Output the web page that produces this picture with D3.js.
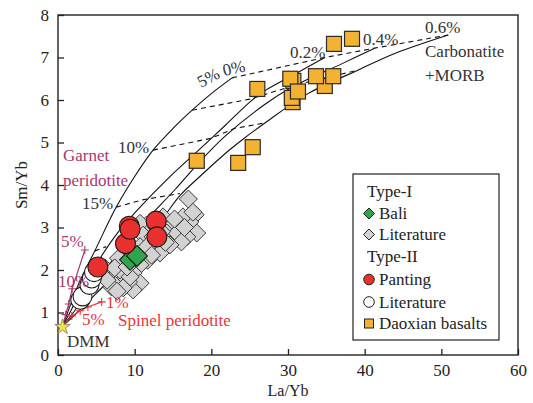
<!DOCTYPE html>
<html>
<head>
<meta charset="utf-8">
<script src="https://cdn.jsdelivr.net/npm/d3@7"></script>
<style>
  body { margin: 0; background: #fff; }
</style>
</head>
<body>
<div id="chart"></div>
<script>
// melting curves, DMM + carbonatite (0, 0.2, 0.4, 0.6 %), La/Yb vs Sm/Yb
const curve0 = [[0.6,0.68],[1.3,1.02],[2.8,1.72],[4.8,2.45],[7.6,3.48],[10,4.2],[12.4,4.82],[15,5.33],[17.5,5.76],[20,6.15],[22.7,6.52]];
const curve02 = [[0.6,0.68],[1.5,0.98],[3.2,1.58],[5.5,2.28],[7.8,2.88],[10.4,3.42],[14.5,4.18],[18.1,4.78],[21.8,5.4],[25.2,5.98],[27,6.22],[30.4,6.56],[34.8,7.0]];
const curve04 = [[0.6,0.68],[2,1.0],[4.5,1.62],[7.5,2.32],[11,3.08],[15.3,3.9],[18.5,4.55],[21.8,5.15],[27,5.9],[30.5,6.3],[37,6.85],[41.3,7.22]];
const curve06 = [[0.6,0.68],[2.5,1.0],[5,1.45],[8,2.0],[10.5,2.52],[13.6,3.2],[15.9,3.75],[18.5,4.2],[22.2,4.8],[24,5.06],[27,5.46],[32.6,6.15],[39.1,6.7],[44,7.1],[50.9,7.53]];

// equal melting degree lines (dashed)
const dash1 = [[22.7,6.52],[34.8,7.0],[41.3,7.22],[50.9,7.53]];
const dash2 = [[17.5,5.76],[25.0,6.02],[31.5,6.38],[39.1,6.7]];
const dash3 = [[12.4,4.82],[20.0,5.1],[23.0,5.33],[27,5.46]];
const dash4 = [[7.6,3.48],[11,3.65],[15.9,3.8]];
const dash5 = [[4.8,2.45],[6.3,2.55]];

const garnetLine = [[0.6,0.68],[1.0,0.95],[1.4,1.2],[1.85,1.56],[3.5,2.47]];
const spinelLine = [[0.6,0.68],[1.8,0.92],[2.9,1.04],[3.9,1.13],[5.7,1.25]];
const dmm = [0.6,0.66];

// samples
const bali = [[9.4,2.24],[10.3,2.33]];
const typeILit = [[17.0,3.67],[17.9,3.3],[18.1,2.87],[17.2,3.13],[16.8,2.78],[15.9,3.01],[15.0,2.7],[14.6,3.1],[13.7,3.25],[11.5,3.05],[10.7,3.1],[11.1,2.82],[10.7,2.55],[12.9,2.47],[13.3,2.4],[11.7,2.23],[10.7,2.12],[9.8,1.93],[10.7,1.69],[9.8,1.53],[9.2,1.72],[8.5,1.76],[7.2,1.69],[7.0,1.6],[6.8,1.93],[8.1,2.0],[8.7,2.19],[7.9,2.28],[9.6,2.42],[8.9,2.7],[14.2,2.87],[15.5,2.87],[16.3,3.25],[17.6,3.36],[16.1,2.66],[14.6,2.59],[12.4,2.78],[12.9,3.0],[11.6,2.55],[12.2,2.35],[6.1,2.05],[6.4,1.76],[8.5,1.58],[9.4,1.84],[7.4,2.05],[9.0,2.07],[7.7,1.5],[15.2,3.2],[16.5,3.0],[14.0,2.65],[13.5,2.9],[10.2,2.35]];
const panting = [[5.2,2.07],[8.8,2.62],[9.3,3.03],[9.4,2.96],[12.8,3.15],[12.9,2.78]];
const typeIILit = [[2.9,1.3],[3.2,1.38],[4.1,1.65],[4.4,1.8],[4.7,1.95]];
const daoxian = [[26.0,6.26],[18.1,4.57],[23.5,4.52],[25.4,4.89],[30.6,5.95],[30.5,6.05],[30.7,6.45],[30.3,6.5],[31.3,6.2],[34.8,6.33],[33.65,6.56],[35.9,6.56],[36.0,7.32],[38.35,7.44]];

const xTicks = [0,10,20,30,40,50,60];
const yTicks = [0,1,2,3,4,5,6,7,8];

const W = 533, H = 403;
const FONT = '"Liberation Serif", "DejaVu Serif", "Times New Roman", serif';
const svg = d3.select("#chart").append("svg").attr("width", W).attr("height", H)
  .attr("font-family", FONT);

const x = d3.scaleLinear().domain([0,60]).range([58,518]);
const y = d3.scaleLinear().domain([0,8]).range([355,15]);

const purple = "#a8386f", red = "#e8353a", ink = "#333";

// axes, ticks pointing inward
svg.append("g").attr("transform", "translate(0,355)")
  .call(d3.axisBottom(x).tickValues(xTicks).tickSizeInner(-6).tickSizeOuter(0).tickPadding(9))
  .attr("font-family", FONT).attr("font-size", 17)
  .call(g => g.select(".domain").remove())
  .call(g => g.selectAll("text").attr("fill", "#222"))
  .call(g => g.selectAll("line").attr("stroke", "#222").attr("stroke-width", 1.3));
svg.append("g").attr("transform", "translate(58,0)")
  .call(d3.axisLeft(y).tickValues(yTicks).tickSizeInner(-6).tickSizeOuter(0).tickPadding(9))
  .attr("font-family", FONT).attr("font-size", 17)
  .call(g => g.select(".domain").remove())
  .call(g => g.selectAll("text").attr("fill", "#222"))
  .call(g => g.selectAll("line").attr("stroke", "#222").attr("stroke-width", 1.3));

svg.append("rect").attr("x", 58).attr("y", 15).attr("width", 460).attr("height", 340)
  .attr("fill", "none").attr("stroke", "#222").attr("stroke-width", 1.4);

svg.append("text").attr("x", 288).attr("y", 396).attr("text-anchor", "middle")
  .attr("font-size", 16).attr("fill", "#222").text("La/Yb");
svg.append("text").attr("transform", "translate(27,185) rotate(-90)").attr("text-anchor", "middle")
  .attr("font-size", 17).attr("fill", "#222").text("Sm/Yb");

const line = d3.line().x(d => x(d[0])).y(d => y(d[1]));
const smooth = d3.line().x(d => x(d[0])).y(d => y(d[1])).curve(d3.curveCatmullRom.alpha(0.5));

[curve0, curve02, curve04, curve06].forEach(c => {
  svg.append("path").attr("d", smooth(c)).attr("fill", "none").attr("stroke", "#111").attr("stroke-width", 1.1);
});
[dash1, dash2, dash3, dash4, dash5].forEach(c => {
  svg.append("path").attr("d", line(c)).attr("fill", "none").attr("stroke", "#111")
    .attr("stroke-width", 1.1).attr("stroke-dasharray", "5,4");
});

// garnet / spinel peridotite melting lines
const cross = "M-4,0H4M0,-4V4";
svg.append("path").attr("d", line(garnetLine)).attr("fill", "none").attr("stroke", purple).attr("stroke-width", 1.2);
svg.selectAll(".gtick").data(garnetLine.slice(1)).join("path")
  .attr("transform", d => `translate(${x(d[0])},${y(d[1])})`)
  .attr("d", cross).attr("stroke", purple).attr("stroke-width", 1.1);
svg.append("path").attr("d", line(spinelLine)).attr("fill", "none").attr("stroke", red).attr("stroke-width", 1.2);
svg.selectAll(".stick").data(spinelLine.slice(1)).join("path")
  .attr("transform", d => `translate(${x(d[0])},${y(d[1])})`)
  .attr("d", cross).attr("stroke", red).attr("stroke-width", 1.1);

// samples
const diamond = s => `M0,${-s}L${s},0L0,${s}L${-s},0Z`;
svg.selectAll(".lit1").data(typeILit).join("path")
  .attr("transform", d => `translate(${x(d[0])},${y(d[1])})`)
  .attr("d", diamond(9)).attr("fill", "#d2d2d2").attr("stroke", "#3a3a3a").attr("stroke-width", 1);
svg.selectAll(".bali").data(bali).join("path")
  .attr("transform", d => `translate(${x(d[0])},${y(d[1])})`)
  .attr("d", diamond(10.5)).attr("fill", "#2fa64d").attr("stroke", "#1a1a1a").attr("stroke-width", 1.1);
svg.selectAll(".lit2").data(typeIILit).join("circle")
  .attr("cx", d => x(d[0])).attr("cy", d => y(d[1])).attr("r", 9.5)
  .attr("fill", "#fff").attr("stroke", "#1a1a1a").attr("stroke-width", 1.1);
svg.selectAll(".pant").data(panting).join("circle")
  .attr("cx", d => x(d[0])).attr("cy", d => y(d[1])).attr("r", 10)
  .attr("fill", "#e8302e").attr("stroke", "#1a1a1a").attr("stroke-width", 1.1);
svg.selectAll(".dao").data(daoxian).join("rect")
  .attr("x", d => x(d[0]) - 7.5).attr("y", d => y(d[1]) - 7.5).attr("width", 15).attr("height", 15)
  .attr("fill", "#f4b233").attr("stroke", "#2a2a2a").attr("stroke-width", 1.2);

svg.append("path").attr("transform", `translate(${x(dmm[0])},${y(dmm[1])})`)
  .attr("d", d3.symbol(d3.symbolStar).size(75)()).attr("fill", "#f3e23a").attr("stroke", "#777").attr("stroke-width", 0.8);

// annotations
const label = (tx, ty, t, col, rot) => {
  const el = svg.append("text").attr("x", tx).attr("y", ty).attr("font-size", 17).attr("fill", col).text(t);
  if (rot) el.attr("transform", `rotate(${rot},${tx},${ty})`);
};
label(201, 88, "5%", ink, -28);
label(224, 76, "0%", ink, -12);
label(118, 153, "10%", ink);
label(82, 209, "15%", ink);
label(290, 58, "0.2%", ink);
label(363, 45, "0.4%", ink);
label(425, 33, "0.6%", ink);
label(425, 57, "Carbonatite", ink);
label(425, 81, "+MORB", ink);
label(63, 161, "Garnet", purple);
label(63, 186, "peridotite", purple);
label(61, 247, "5%", purple);
label(58, 287, "10%", purple);
label(106, 308, "1%", red);
label(82, 325, "5%", red);
label(118, 326, "Spinel peridotite", red);
label(67, 347, "DMM", ink);

// legend
const lg = svg.append("g");
lg.append("rect").attr("x", 353).attr("y", 174).attr("width", 146).attr("height", 166)
  .attr("fill", "#fff").attr("stroke", "#222").attr("stroke-width", 1.2);
const legendRows = [
  {t: "Type-I", y: 196.5},
  {t: "Bali", y: 219, m: "dia", fill: "#2fa64d"},
  {t: "Literature", y: 240, m: "dia", fill: "#d2d2d2"},
  {t: "Type-II", y: 262},
  {t: "Panting", y: 285, m: "circ", fill: "#e8302e"},
  {t: "Literature", y: 307.5, m: "circ", fill: "#fff"},
  {t: "Daoxian basalts", y: 329, m: "sq", fill: "#f4b233"}
];
legendRows.forEach(r => {
  const cy = r.y - 5.5;
  if (r.m === "dia") lg.append("path").attr("transform", `translate(369,${cy})`).attr("d", diamond(5.5))
    .attr("fill", r.fill).attr("stroke", "#222").attr("stroke-width", 1);
  if (r.m === "circ") lg.append("circle").attr("cx", 369).attr("cy", cy).attr("r", 5.3)
    .attr("fill", r.fill).attr("stroke", "#222").attr("stroke-width", 1);
  if (r.m === "sq") lg.append("rect").attr("x", 364.5).attr("y", cy - 4.5).attr("width", 9).attr("height", 9)
    .attr("fill", r.fill).attr("stroke", "#222").attr("stroke-width", 1);
  lg.append("text").attr("x", r.m ? 379 : 367).attr("y", r.y).attr("font-size", 17).attr("fill", "#222").text(r.t);
});
</script>
</body>
</html>
